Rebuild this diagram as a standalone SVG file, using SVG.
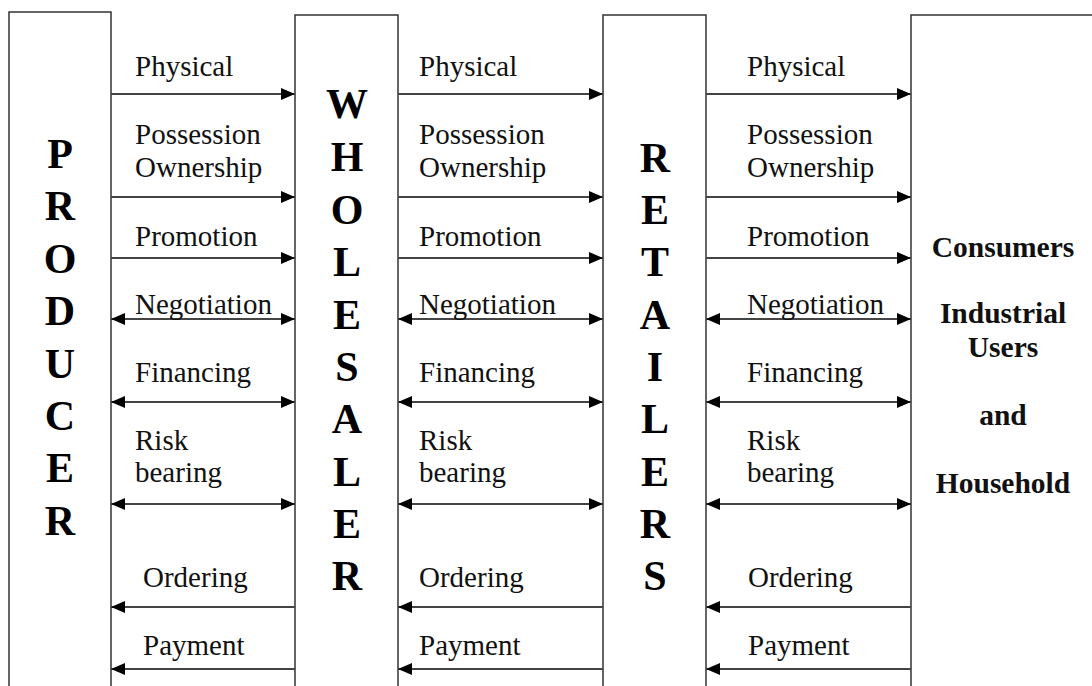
<svg xmlns="http://www.w3.org/2000/svg" width="1092" height="686" viewBox="0 0 1092 686">
  <style>
    .box { fill: #ffffff; stroke: #333333; stroke-width: 1.5; }
    .flow { stroke: #444444; stroke-width: 2; fill: none; }
    .lbl { font-family: "Liberation Serif", "Times New Roman", serif; font-size: 29px; fill: #111111; }
    .big { font-family: "Liberation Serif", "Times New Roman", serif; font-size: 42px; font-weight: bold; fill: #000000; text-anchor: middle; }
    .cons { font-family: "Liberation Serif", "Times New Roman", serif; font-size: 29.5px; font-weight: bold; fill: #111111; text-anchor: middle; }
  </style>
  <defs>
    <marker id="head" markerUnits="userSpaceOnUse" markerWidth="15" markerHeight="13" refX="14" refY="6" orient="auto-start-reverse">
      <path d="M0,0 L14,6 L0,12 z" fill="#000000"/>
    </marker>
  </defs>
  <rect width="1092" height="686" fill="#ffffff"/>

  <!-- Producer -->
  <g id="producer">
    <rect class="box" x="9" y="12" width="102" height="690"/>
    <text class="big" x="60" y="168">P</text>
    <text class="big" x="60" y="220">R</text>
    <text class="big" x="60" y="273">O</text>
    <text class="big" x="60" y="325">D</text>
    <text class="big" x="60" y="378">U</text>
    <text class="big" x="60" y="430">C</text>
    <text class="big" x="60" y="482">E</text>
    <text class="big" x="60" y="535">R</text>
  </g>

  <!-- Wholesaler -->
  <g id="wholesaler">
    <rect class="box" x="295" y="15" width="103" height="690"/>
    <text class="big" x="347" y="118">W</text>
    <text class="big" x="347" y="171">H</text>
    <text class="big" x="347" y="224">O</text>
    <text class="big" x="347" y="276">L</text>
    <text class="big" x="347" y="329">E</text>
    <text class="big" x="347" y="381">S</text>
    <text class="big" x="347" y="433">A</text>
    <text class="big" x="347" y="486">L</text>
    <text class="big" x="347" y="538">E</text>
    <text class="big" x="347" y="590">R</text>
  </g>

  <!-- Retailers -->
  <g id="retailers">
    <rect class="box" x="603" y="15" width="103" height="690"/>
    <text class="big" x="655" y="172">R</text>
    <text class="big" x="655" y="224">E</text>
    <text class="big" x="655" y="276">T</text>
    <text class="big" x="655" y="329">A</text>
    <text class="big" x="655" y="381">I</text>
    <text class="big" x="655" y="433">L</text>
    <text class="big" x="655" y="486">E</text>
    <text class="big" x="655" y="538">R</text>
    <text class="big" x="655" y="590">S</text>
  </g>

  <!-- Consumers / industrial users / household -->
  <g id="consumers">
    <rect class="box" x="911" y="15" width="200" height="690"/>
    <text class="cons" x="1003" y="257">Consumers</text>
    <text class="cons" x="1003" y="323">Industrial</text>
    <text class="cons" x="1003" y="357">Users</text>
    <text class="cons" x="1003" y="425">and</text>
    <text class="cons" x="1003" y="493">Household</text>
  </g>

  <!-- Flow connectors between each pair of channel members -->
  <g id="connectors">
    <!-- producer to wholesaler -->
    <line class="flow" x1="111" y1="94" x2="295" y2="94" marker-end="url(#head)"/>
    <line class="flow" x1="111" y1="197" x2="295" y2="197" marker-end="url(#head)"/>
    <line class="flow" x1="111" y1="258" x2="295" y2="258" marker-end="url(#head)"/>
    <line class="flow" x1="111" y1="319" x2="295" y2="319" marker-start="url(#head)" marker-end="url(#head)"/>
    <line class="flow" x1="111" y1="402" x2="295" y2="402" marker-start="url(#head)" marker-end="url(#head)"/>
    <line class="flow" x1="111" y1="504" x2="295" y2="504" marker-start="url(#head)" marker-end="url(#head)"/>
    <line class="flow" x1="111" y1="607" x2="295" y2="607" marker-start="url(#head)"/>
    <line class="flow" x1="111" y1="669" x2="295" y2="669" marker-start="url(#head)"/>

    <!-- wholesaler to retailers -->
    <line class="flow" x1="398" y1="94" x2="603" y2="94" marker-end="url(#head)"/>
    <line class="flow" x1="398" y1="197" x2="603" y2="197" marker-end="url(#head)"/>
    <line class="flow" x1="398" y1="258" x2="603" y2="258" marker-end="url(#head)"/>
    <line class="flow" x1="398" y1="319" x2="603" y2="319" marker-start="url(#head)" marker-end="url(#head)"/>
    <line class="flow" x1="398" y1="402" x2="603" y2="402" marker-start="url(#head)" marker-end="url(#head)"/>
    <line class="flow" x1="398" y1="504" x2="603" y2="504" marker-start="url(#head)" marker-end="url(#head)"/>
    <line class="flow" x1="398" y1="607" x2="603" y2="607" marker-start="url(#head)"/>
    <line class="flow" x1="398" y1="669" x2="603" y2="669" marker-start="url(#head)"/>

    <!-- retailers to consumers -->
    <line class="flow" x1="706" y1="94" x2="911" y2="94" marker-end="url(#head)"/>
    <line class="flow" x1="706" y1="197" x2="911" y2="197" marker-end="url(#head)"/>
    <line class="flow" x1="706" y1="258" x2="911" y2="258" marker-end="url(#head)"/>
    <line class="flow" x1="706" y1="319" x2="911" y2="319" marker-start="url(#head)" marker-end="url(#head)"/>
    <line class="flow" x1="706" y1="402" x2="911" y2="402" marker-start="url(#head)" marker-end="url(#head)"/>
    <line class="flow" x1="706" y1="504" x2="911" y2="504" marker-start="url(#head)" marker-end="url(#head)"/>
    <line class="flow" x1="706" y1="607" x2="911" y2="607" marker-start="url(#head)"/>
    <line class="flow" x1="706" y1="669" x2="911" y2="669" marker-start="url(#head)"/>

    <!-- flow labels -->
    <g id="labels-1">
      <text class="lbl" x="135" y="76">Physical</text>
      <text class="lbl" x="135" y="144">Possession</text>
      <text class="lbl" x="135" y="177">Ownership</text>
      <text class="lbl" x="135" y="246">Promotion</text>
      <text class="lbl" x="135" y="314">Negotiation</text>
      <text class="lbl" x="135" y="382">Financing</text>
      <text class="lbl" x="135" y="450">Risk</text>
      <text class="lbl" x="135" y="482">bearing</text>
      <text class="lbl" x="143" y="587">Ordering</text>
      <text class="lbl" x="143" y="655">Payment</text>
    </g>
    <g id="labels-2">
      <text class="lbl" x="419" y="76">Physical</text>
      <text class="lbl" x="419" y="144">Possession</text>
      <text class="lbl" x="419" y="177">Ownership</text>
      <text class="lbl" x="419" y="246">Promotion</text>
      <text class="lbl" x="419" y="314">Negotiation</text>
      <text class="lbl" x="419" y="382">Financing</text>
      <text class="lbl" x="419" y="450">Risk</text>
      <text class="lbl" x="419" y="482">bearing</text>
      <text class="lbl" x="419" y="587">Ordering</text>
      <text class="lbl" x="419" y="655">Payment</text>
    </g>
    <g id="labels-3">
      <text class="lbl" x="747" y="76">Physical</text>
      <text class="lbl" x="747" y="144">Possession</text>
      <text class="lbl" x="747" y="177">Ownership</text>
      <text class="lbl" x="747" y="246">Promotion</text>
      <text class="lbl" x="747" y="314">Negotiation</text>
      <text class="lbl" x="747" y="382">Financing</text>
      <text class="lbl" x="747" y="450">Risk</text>
      <text class="lbl" x="747" y="482">bearing</text>
      <text class="lbl" x="748" y="587">Ordering</text>
      <text class="lbl" x="748" y="655">Payment</text>
    </g>
  </g>
</svg>
